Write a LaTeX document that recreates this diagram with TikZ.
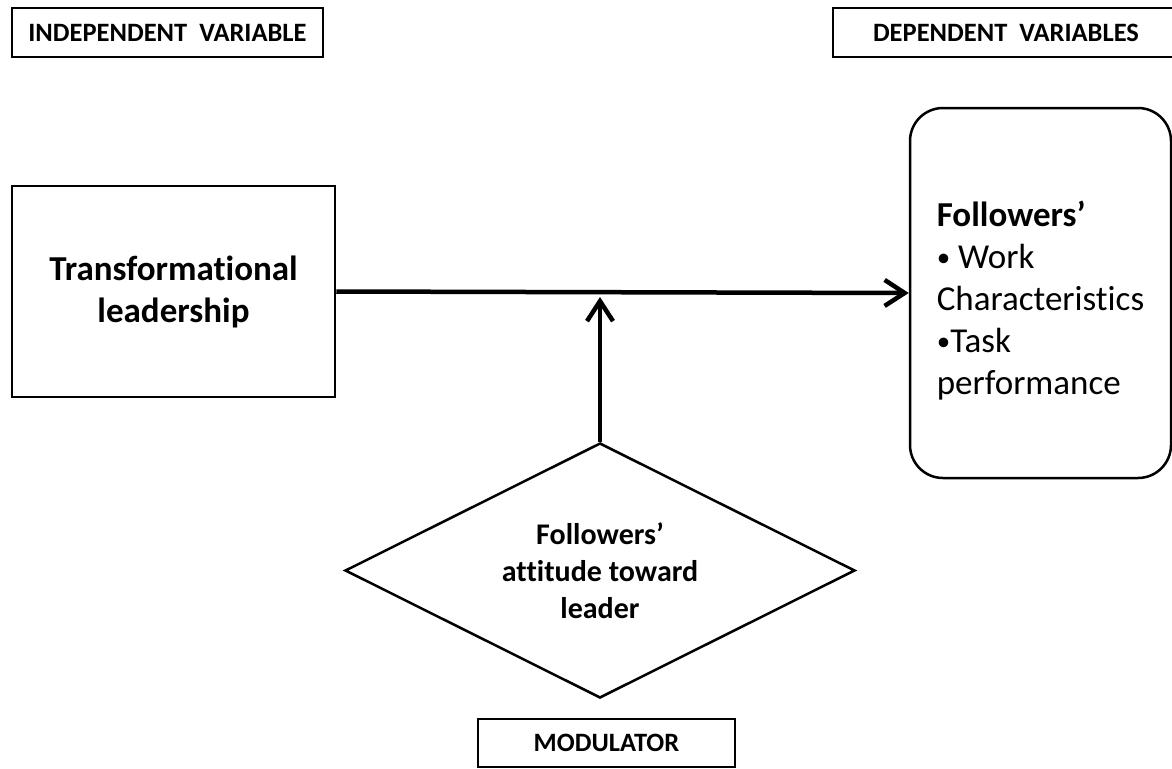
\documentclass[tikz,border=0pt]{standalone}
\usepackage{fontspec}
\setmainfont{Carlito}[Ligatures=NoCommon]
\usepackage{tikz}
\usetikzlibrary{arrows.meta,positioning,shapes.geometric}

\newcommand{\itemdot}{\raisebox{2pt}{\fontsize{27}{42}\selectfont•}}

\begin{document}
\begin{tikzpicture}[x=1pt, y=-1pt,
  tag/.style={draw, line width=2.5pt, inner sep=0pt, minimum height=49pt,
    font=\fontsize{26.5}{31}\selectfont\bfseries},
  flow/.style={-{Straight Barb[length=20pt, width=26pt]}, line width=4.5pt}]
  \useasboundingbox (0,0) rectangle (1172,768);
  \clip (0,0) rectangle (1172,768);

  % Column labels
  \node[tag, minimum width=311pt] (ivlabel) at (167.5,32.5) {INDEPENDENT\ \ VARIABLE};
  \node[tag, minimum width=346pt] (dvlabel) at (1006,32.5) {DEPENDENT\ \ VARIABLES};
  \node[tag, minimum width=257pt, minimum height=48pt] (modlabel) at (606.5,743) {MODULATOR};

  % Main boxes
  \node[draw, line width=2.5pt, minimum width=323pt, minimum height=211pt, align=center,
    font=\fontsize{35}{42}\selectfont\bfseries] (lead) at (173.5,291.5)
    {Transformational\\leadership};
  \node[draw, line width=2.5pt, rounded corners=33pt, minimum width=261pt, minimum height=370pt,
    align=left, font=\fontsize{35}{42}\selectfont] (outcome) at (1040.5,293)
    {\rule{0pt}{41pt}\textbf{Followers’}\\\itemdot{} Work\\Characteristics\\\itemdot Task\\performance};
  \node[draw, diamond, aspect=2, line width=2.5pt, inner sep=0pt, minimum width=510pt,
    minimum height=255pt, align=center, font=\fontsize{30}{37}\selectfont\bfseries]
    (attitude) at (600,570.5) {Followers’\\attitude toward\\leader};

  % Effect and moderation
  \draw[flow] (lead.east) -- (outcome.west);
  \coordinate (meet) at (attitude.north |- 0,297);
  \draw[flow] (attitude.north) -- (meet);
\end{tikzpicture}
\end{document}
